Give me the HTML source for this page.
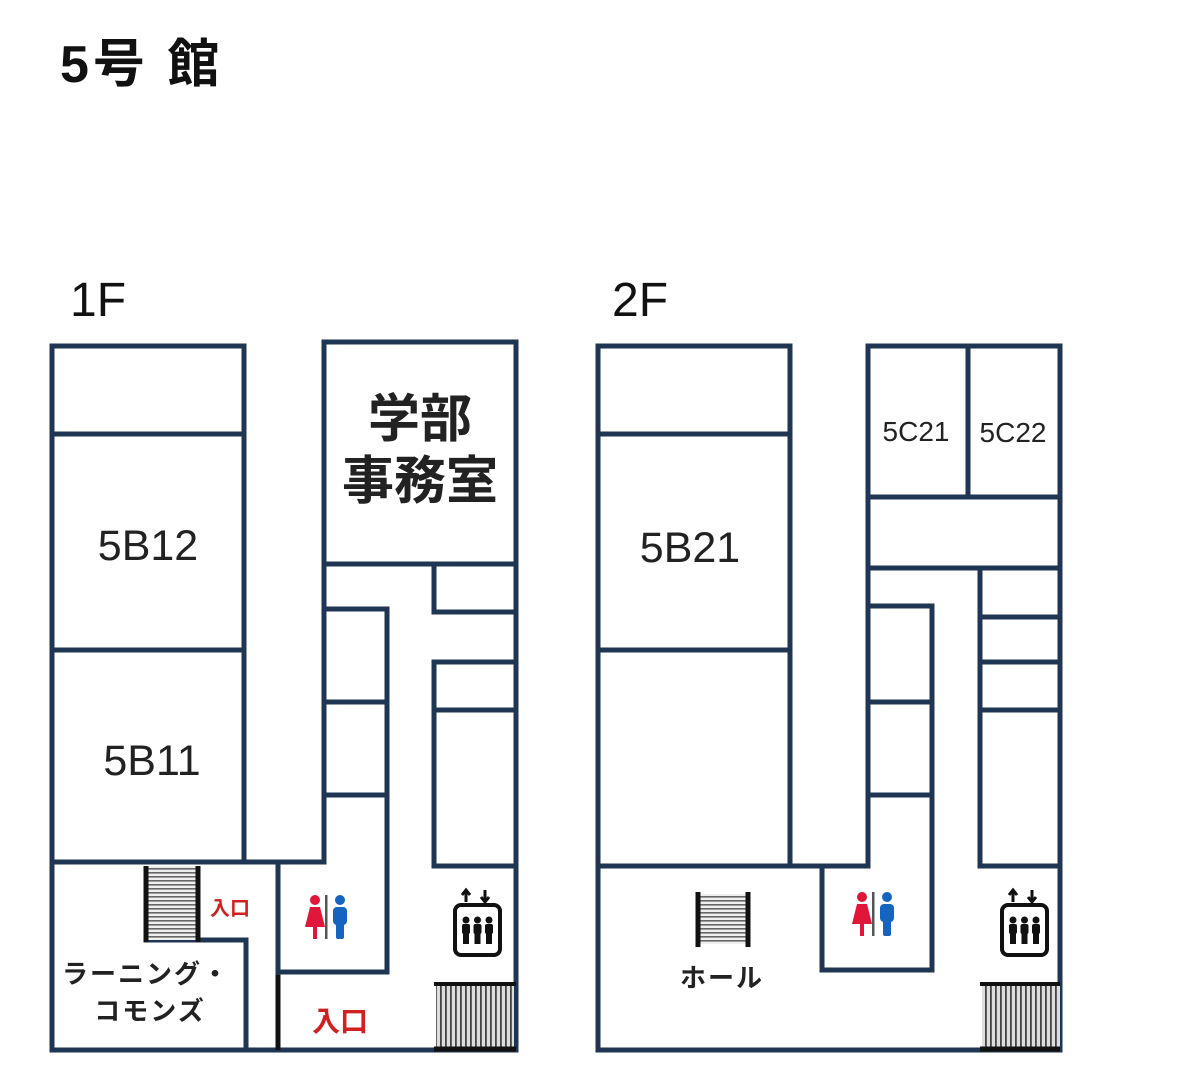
<!DOCTYPE html>
<html><head><meta charset="utf-8"><style>
html,body{margin:0;padding:0;background:#fff;}
svg{display:block;}
text{font-family:"Liberation Sans","Noto Sans CJK JP",sans-serif;}
</style></head><body>
<svg width="1179" height="1083" viewBox="0 0 1179 1083" xmlns="http://www.w3.org/2000/svg">
<defs>
<g id="elev">
  <rect x="2" y="19" width="45" height="50" rx="6" fill="none" stroke="#111" stroke-width="4"/>
  <path d="M13 16V6 M9 9l4-5 4 5" stroke="#111" stroke-width="3" fill="none"/>
  <path d="M32 4v10 M28 11l4 5 4-5" stroke="#111" stroke-width="3" fill="none"/>
  <g fill="#111">
    <circle cx="13" cy="34" r="3.5"/><rect x="9" y="38" width="8" height="10" rx="2"/><rect x="10" y="46" width="6" height="12"/>
    <circle cx="24.5" cy="34" r="3.5"/><rect x="20.5" y="38" width="8" height="10" rx="2"/><rect x="21.5" y="46" width="6" height="12"/>
    <circle cx="36" cy="34" r="3.5"/><rect x="32" y="38" width="8" height="10" rx="2"/><rect x="33" y="46" width="6" height="12"/>
  </g>
</g>
<g id="wc">
  <circle cx="10" cy="5" r="5" fill="#e0163a"/>
  <path d="M5 12h10l5 20H0z" fill="#e0163a"/>
  <rect x="8" y="30" width="4" height="14" fill="#e0163a"/>
  <rect x="20" y="0" width="2.5" height="44" fill="#555"/>
  <circle cx="35" cy="5" r="5" fill="#1565c0"/>
  <rect x="28" y="12" width="14" height="18" rx="4" fill="#1565c0"/>
  <rect x="31" y="28" width="8" height="16" rx="2" fill="#1565c0"/>
</g>
<pattern id="hstripe" width="4" height="4" patternUnits="userSpaceOnUse">
  <rect width="4" height="4" fill="#eee"/><rect width="4" height="1.6" fill="#666"/>
</pattern>
<pattern id="vstripe" width="5" height="4" patternUnits="userSpaceOnUse">
  <rect width="5" height="4" fill="#ddd"/><rect width="1.8" height="4" fill="#444"/>
</pattern>
</defs>

<text x="60" y="82" font-size="52" font-weight="bold" fill="#111" letter-spacing="4">5号 館</text>
<text x="70" y="316" font-size="48" fill="#111">1F</text>
<text x="612" y="316" font-size="48" fill="#111">2F</text>

<g stroke="#1e3553" stroke-width="5" fill="none" stroke-linecap="square">
<path d="M52 346H244V862 M52 346V1050H516 M52 434H244 M52 650H244 M52 862H324"/>
<path d="M246 940V1050 M146 940H246"/>
<path d="M324 342H516V1050 M324 342V862 M324 564H516"/>
<path d="M328 609H387V972 M328 702H387 M328 795H387"/>
<path d="M278 866V1050 M278 972H387"/>
<path d="M434 567V612H516 M434 662H516 M434 662V866H516 M434 710H516"/>
<path d="M598 346H790V866 M598 346V1050H1060 M598 434H790 M598 650H790 M598 866H868"/>
<path d="M822 866V970H932V606H872 M872 702H932 M872 795H932"/>
<path d="M868 346H1060V1050 M868 346V866 M968 346V497 M868 497H1060 M868 568H1060"/>
<path d="M980 568V866H1060 M980 617H1060 M980 662H1060 M980 710H1060"/>
</g>

<rect x="146" y="866" width="52" height="74" fill="url(#hstripe)"/>
<path d="M146 866V942 M198 866V942" stroke="#111" stroke-width="5"/>
<line x1="278" y1="975" x2="278" y2="1050" stroke="#111" stroke-width="5"/>
<rect x="436" y="984" width="78" height="66" fill="url(#vstripe)"/>
<line x1="434" y1="984" x2="516" y2="984" stroke="#111" stroke-width="4"/>
<line x1="434" y1="1049" x2="516" y2="1049" stroke="#111" stroke-width="5"/>
<rect x="698" y="894" width="50" height="50" fill="url(#hstripe)"/>
<path d="M698 892V947 M748 892V947" stroke="#111" stroke-width="5"/>
<rect x="982" y="984" width="78" height="66" fill="url(#vstripe)"/>
<line x1="980" y1="984" x2="1060" y2="984" stroke="#111" stroke-width="4"/>
<line x1="980" y1="1049" x2="1060" y2="1049" stroke="#111" stroke-width="5"/>

<use href="#elev" x="453" y="886"/>
<use href="#elev" x="1000" y="886"/>
<use href="#wc" x="305" y="895"/>
<use href="#wc" x="852" y="892"/>

<g fill="#222" text-anchor="middle">
<text x="148" y="560" font-size="43">5B12</text>
<text x="152" y="775" font-size="43">5B11</text>
<text x="690" y="562" font-size="43">5B21</text>
<text x="916" y="441" font-size="28">5C21</text>
<text x="1013" y="442" font-size="28">5C22</text>
<text x="420" y="437" font-size="52" font-weight="bold">学部</text>
<text x="420" y="499" font-size="52" font-weight="bold">事務室</text>
<text x="146" y="983" font-size="26" font-weight="bold" letter-spacing="2">ラーニング・</text>
<text x="150" y="1020" font-size="26" font-weight="bold" letter-spacing="2">コモンズ</text>
<text x="722" y="987" font-size="26" font-weight="bold" letter-spacing="2">ホール</text>
</g>
<text x="230" y="915" font-size="20" font-weight="bold" fill="#d02020" text-anchor="middle">入口</text>
<text x="340" y="1031" font-size="28" font-weight="bold" fill="#d02020" text-anchor="middle">入口</text>
</svg>
</body></html>
